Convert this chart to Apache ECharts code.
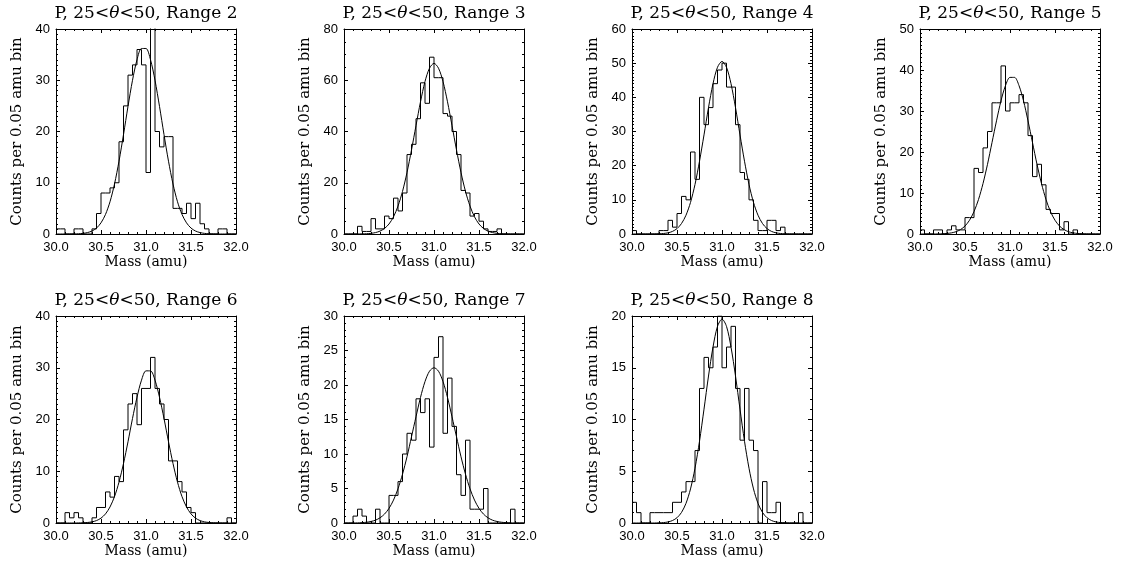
<!DOCTYPE html>
<html>
<head>
<meta charset="utf-8">
<script src="https://cdn.jsdelivr.net/npm/echarts@6.0.0/dist/echarts.min.js"></script>
<style>
  html, body { margin: 0; padding: 0; background: #fff; }
  #chart { width: 1125px; height: 568px; }
</style>
</head>
<body>
<div id="chart"></div>
<script>
// mass bins (lower edge, amu) and the sample points of the fitted curves
const binWidth = 0.05;
const massBins = [30.00, 30.05, 30.10, 30.15, 30.20, 30.25, 30.30, 30.35, 30.40, 30.45,
  30.50, 30.55, 30.60, 30.65, 30.70, 30.75, 30.80, 30.85, 30.90, 30.95,
  31.00, 31.05, 31.10, 31.15, 31.20, 31.25, 31.30, 31.35, 31.40, 31.45,
  31.50, 31.55, 31.60, 31.65, 31.70, 31.75, 31.80, 31.85, 31.90, 31.95];
const fitMass = [30.00, 30.05, 30.10, 30.15, 30.20, 30.25, 30.30, 30.35, 30.40, 30.45,
  30.50, 30.55, 30.60, 30.65, 30.70, 30.75, 30.80, 30.85, 30.90, 30.95,
  31.00, 31.05, 31.10, 31.15, 31.20, 31.25, 31.30, 31.35, 31.40, 31.45,
  31.50, 31.55, 31.60, 31.65, 31.70, 31.75, 31.80, 31.85, 31.90, 31.95, 32.00];

// histogram counts per 0.05 amu bin
const range2 = [1,1,0,0,1,1,0,0,1,4, 8,8,9,10,18,25,31,33,36,33, 12,45,20,17,19,19,5,5,4,6, 3,6,2,1,0,0,1,1,0,0];
const range3 = [0,0,0,3,1,1,6,2,2,7, 6,14,9,16,31,35,45,59,51,69, 61,61,47,46,40,31,17,16,7,8, 5,2,1,1,2,0,0,0,0,0];
const range4 = [1,0,0,0,0,0,1,1,4,2, 6,11,10,24,16,40,32,37,44,48, 50,43,43,32,18,16,10,4,1,1, 4,4,1,2,0,0,0,0,0,0];
const range5 = [1,0,0,1,1,0,1,2,1,1, 4,4,16,15,21,25,32,32,41,30, 32,32,34,32,24,14,17,12,6,5, 5,1,3,0,1,0,0,0,0,0];
const range6 = [0,0,2,1,2,1,0,0,1,3, 3,6,5,9,8,18,23,25,19,26, 26,32,26,23,20,12,12,8,6,3, 2,0,0,0,0,0,0,0,1,0];
const range7 = [0,0,1,2,1,0,0,2,0,0, 4,4,6,10,13,12,18,16,18,11, 24,27,13,21,14,7,4,12,2,2, 2,5,0,0,0,0,0,2,0,0];
const range8 = [2,1,0,0,1,1,1,1,1,2, 2,3,4,4,7,13,16,15,17,20, 15,17,19,13,8,13,8,7,0,4, 1,1,2,0,0,0,0,1,0,0];

const fit2 = [0,0,0,0,0.02,0.05,0.12,0.28,0.58,1.16, 2.18,3.82,6.29,9.75,14.2,19.4,24.9,30.0,34.0,36.2,
  36.2,34.0,30.0,24.9,19.4,14.2,9.75,6.29,3.82,2.18, 1.16,0.58,0.28,0.12,0.05,0.02,0,0,0,0, 0];
const fit3 = [0,0,0,0.01,0.05,0.11,0.26,0.55,1.13,2.16, 3.9,6.7,10.9,16.6,24.0,32.8,42.3,51.6,59.5,64.7,
  66.6, 64.7,59.5,51.6,42.3,32.8,24.0,16.6,10.9,6.7,3.9, 2.16,1.13,0.55,0.26,0.11,0.05,0.01,0,0,0];
const fit4 = [0,0,0,0,0,0.02,0.06,0.15,0.34,0.76, 1.58,3.06,5.5,9.24,14.5,21.3,29.0,37.0,44.0,48.8,
  50.5, 48.8,44.0,37.0,29.0,21.3,14.5,9.24,5.5,3.06,1.58, 0.76,0.34,0.15,0.06,0.02,0,0,0,0,0];
const fit5 = [0,0,0,0,0.02,0.06,0.13,0.28,0.56,1.08, 1.95,3.35,5.46,8.41,12.3,17.0,22.3,27.6,32.5,36.2,
  38.2,38.2,36.2,32.5,27.6,22.3,17.0,12.3,8.41,5.46, 3.35,1.95,1.08,0.56,0.28,0.13,0.06,0.02,0,0, 0];
const fit6 = [0,0,0,0,0,0.02,0.04,0.10,0.22,0.47, 0.94,1.76,3.1,5.1,7.9,11.5,15.7,20.2,24.3,27.6,
  29.4,29.4,27.6,24.3,20.2,15.7,11.5,7.9,5.1,3.1, 1.76,0.94,0.47,0.22,0.10,0.04,0.02,0,0,0, 0];
const fit7 = [0,0,0.01,0.02,0.05,0.11,0.22,0.41,0.75,1.29, 2.12,3.32,4.96,7.07,9.6,12.5,15.4,18.2,20.5,22.0,
  22.5, 22.0,20.5,18.2,15.4,12.5,9.6,7.07,4.96,3.32,2.12, 1.29,0.75,0.41,0.22,0.11,0.05,0.02,0.01,0,0];
const fit8 = [0,0,0,0,0,0,0.02,0.04,0.10,0.24, 0.51,1.02,1.9,3.29,5.29,7.9,11.0,14.2,17.0,19.0,
  19.7, 19.0,17.0,14.2,11.0,7.9,5.29,3.29,1.9,1.02,0.51, 0.24,0.10,0.04,0.02,0,0,0,0,0,0];

const rangeNames = ['Range 2', 'Range 3', 'Range 4', 'Range 5', 'Range 6', 'Range 7', 'Range 8'];
const yMax = [40, 80, 60, 50, 40, 30, 20];
const yStep = [10, 20, 10, 10, 10, 5, 5];
const yMinor = [10, 4, 10, 10, 10, 5, 5];

const counts = [range2, range3, range4, range5, range6, range7, range8];
const fits = [fit2, fit3, fit4, fit5, fit6, fit7, fit8];

// layout: 4 columns x 2 rows (last cell empty)
const colLeft = [56, 344, 632, 920];
const rowTop = [29, 316];
const rowHeight = [205, 207];
const panelW = 180;

const serif = 'DejaVu Serif';
const sans = 'Liberation Sans';
const black = '#000';

const grids = [], xAxes = [], yAxes = [], series = [], titles = [];

counts.forEach((cnt, i) => {
  const col = i % 4, row = Math.floor(i / 4);
  grids.push({ left: colLeft[col], top: rowTop[row], width: panelW, height: rowHeight[row] });

  titles.push({
    text: 'P, 25<{th|θ}<50, ' + rangeNames[i],
    left: colLeft[col] + panelW / 2,
    textAlign: 'center',
    top: row === 0 ? 5 : 292,
    padding: 0,
    textStyle: {
      fontFamily: serif, fontSize: 17, fontWeight: 'normal', color: black,
      rich: { th: { fontFamily: serif, fontSize: 17, fontStyle: 'italic', color: black } }
    }
  });

  ['bottom', 'top'].forEach(pos => {
    xAxes.push({
      gridIndex: i, type: 'value', position: pos,
      min: 30, max: 32, interval: 0.5,
      axisLine: { show: true, onZero: false, lineStyle: { color: black, width: 1 } },
      axisTick: { show: true, inside: true, length: 4, lineStyle: { color: black, width: 1 } },
      minorTick: { show: true, splitNumber: 5, length: 2, lineStyle: { color: black, width: 1 } },
      splitLine: { show: false },
      axisLabel: pos === 'bottom'
        ? { show: true, margin: 7, color: black, fontFamily: sans, fontSize: 13, formatter: v => v.toFixed(1) }
        : { show: false },
      name: pos === 'bottom' ? 'Mass (amu)' : '',
      nameLocation: 'middle', nameGap: 21,
      nameTextStyle: { fontFamily: serif, fontSize: 14, color: black }
    });
  });

  ['left', 'right'].forEach(pos => {
    yAxes.push({
      gridIndex: i, type: 'value', position: pos,
      min: 0, max: yMax[i], interval: yStep[i],
      axisLine: { show: true, onZero: false, lineStyle: { color: black, width: 1 } },
      axisTick: { show: true, inside: true, length: 4, lineStyle: { color: black, width: 1 } },
      minorTick: { show: true, splitNumber: yMinor[i], length: 2, lineStyle: { color: black, width: 1 } },
      splitLine: { show: false },
      axisLabel: pos === 'left'
        ? { show: true, margin: 6, color: black, fontFamily: sans, fontSize: 13 }
        : { show: false },
      name: pos === 'left' ? 'Counts per 0.05 amu bin' : '',
      nameLocation: 'middle', nameGap: 31,
      nameTextStyle: { fontFamily: serif, fontSize: 15, color: black }
    });
  });

  // histogram as a stepped outline: each bin runs from its lower edge to the next
  const histData = massBins.map((m, k) => [m, cnt[k]]);
  histData.push([massBins[massBins.length - 1] + binWidth, cnt[cnt.length - 1]]);
  series.push({
    type: 'line', xAxisIndex: 2 * i, yAxisIndex: 2 * i,
    data: histData, step: 'end', showSymbol: false, clip: true,
    lineStyle: { color: black, width: 1 }, silent: true, animation: false
  });
  series.push({
    type: 'line', xAxisIndex: 2 * i, yAxisIndex: 2 * i,
    data: fitMass.map((m, k) => [m, fits[i][k]]), smooth: 0.3, showSymbol: false, clip: true,
    lineStyle: { color: black, width: 1 }, silent: true, animation: false
  });
});

const chart = echarts.init(document.getElementById('chart'), null, { renderer: 'canvas' });
chart.setOption({
  backgroundColor: '#fff',
  animation: false,
  title: titles,
  grid: grids,
  xAxis: xAxes,
  yAxis: yAxes,
  series: series
});
</script>
</body>
</html>
